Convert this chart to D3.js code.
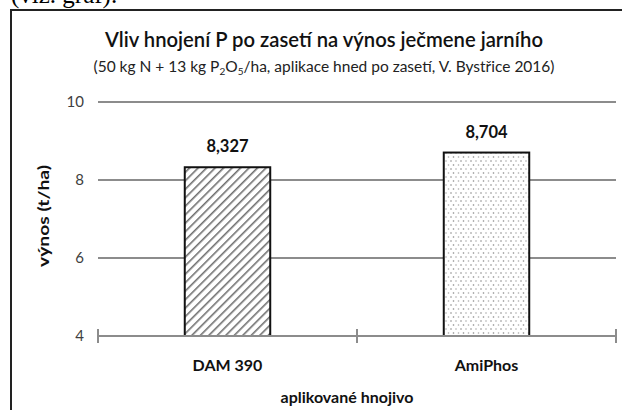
<!DOCTYPE html>
<html><head><meta charset="utf-8">
<script src="https://cdn.jsdelivr.net/npm/d3@7"></script>
<style>body{margin:0;background:#fff}svg{display:block}</style>
</head><body>
<svg id="c" width="622" height="410"></svg>
<script>
const categories = ["DAM 390", "AmiPhos"];
const values = [8.327, 8.704];
const yTicks = [4, 6, 8, 10];
const valueLabels = ["8,327", "8,704"];
const patterns = ["hatch", "dots"];

const svg = d3.select("#c");
const FONT = "Lato, 'Open Sans', sans-serif";

// patterns
const defs = svg.append("defs");
const ph = defs.append("pattern").attr("id","hatch").attr("patternUnits","userSpaceOnUse")
  .attr("width",6).attr("height",6).attr("patternTransform","rotate(45)");
ph.append("rect").attr("width",6).attr("height",6).attr("fill","#fff");
ph.append("line").attr("x1",0).attr("y1",0).attr("x2",0).attr("y2",6)
  .attr("stroke","#707070").attr("stroke-width",3.2);
const pd = defs.append("pattern").attr("id","dots").attr("patternUnits","userSpaceOnUse")
  .attr("width",10).attr("height",8);
pd.append("rect").attr("width",10).attr("height",8).attr("fill","#fff");
[[1,1],[6,1],[3.5,5],[8.5,5]].forEach(([x,y],i)=>{
  pd.append("circle").attr("cx",x).attr("cy",y).attr("r",0.8).attr("fill", i%2? "#aaa":"#888");
});

// document remnant text and frame
svg.append("text").attr("x",11).attr("y",3).attr("font-family","'Liberation Serif', serif")
  .attr("font-size",25).attr("fill","#000").text("(viz. graf).");
svg.append("line").attr("x1",11).attr("x2",622).attr("y1",10).attr("y2",10).attr("stroke","#222").attr("stroke-width",2);
svg.append("line").attr("x1",11).attr("x2",11).attr("y1",9).attr("y2",410).attr("stroke","#222").attr("stroke-width",2);

const x = d3.scaleBand().domain(categories).range([98,616]).padding(0);
const y = d3.scaleLinear().domain([4,10]).range([336,102]);

// gridlines
svg.append("g").selectAll("line").data(yTicks.filter(t=>t>4)).join("line")
  .attr("x1",98).attr("x2",616).attr("y1",d=>y(d)).attr("y2",d=>y(d))
  .attr("stroke","#8c8c8c").attr("stroke-width",2);

// y labels
svg.append("g").selectAll("text").data(yTicks).join("text")
  .attr("x",84).attr("y",d=>y(d)).attr("dy","0.36em").attr("text-anchor","end")
  .attr("font-family",FONT).attr("font-size",15).attr("fill","#404040").text(d=>d);

// bars
const bw = x.bandwidth()*0.33;
svg.append("g").selectAll("rect").data(categories).join("rect")
  .attr("x",d=>x(d)+x.bandwidth()/2-bw/2).attr("width",bw)
  .attr("y",(d,i)=>y(values[i])).attr("height",(d,i)=>y(4)-y(values[i]))
  .attr("fill",(d,i)=>`url(#${patterns[i]})`).attr("stroke","#111").attr("stroke-width",2);

// x axis
const xAxisY = y(4);
svg.append("line").attr("x1",98).attr("x2",616).attr("y1",xAxisY).attr("y2",xAxisY)
  .attr("stroke","#8c8c8c").attr("stroke-width",2);
const tickX = categories.map(c=>x(c)).concat([x(categories[categories.length-1])+x.bandwidth()]);
svg.append("g").selectAll("line").data(tickX).join("line")
  .attr("x1",d=>d).attr("x2",d=>d).attr("y1",xAxisY-7).attr("y2",xAxisY+7)
  .attr("stroke","#8c8c8c").attr("stroke-width",2);

// value labels
svg.append("g").selectAll("text").data(categories).join("text")
  .attr("x",d=>x(d)+x.bandwidth()/2).attr("y",(d,i)=>y(values[i])-15)
  .attr("text-anchor","middle").attr("font-family",FONT).attr("font-weight","bold")
  .attr("font-size",16.5).attr("fill","#111").text((d,i)=>valueLabels[i]);

// category labels
svg.append("g").selectAll("text").data(categories).join("text")
  .attr("x",d=>x(d)+x.bandwidth()/2).attr("y",371)
  .attr("text-anchor","middle").attr("font-family",FONT).attr("font-weight","bold")
  .attr("font-size",16).attr("fill","#111").text(d=>d);

// axis titles
svg.append("text").attr("x",347).attr("y",403).attr("text-anchor","middle")
  .attr("font-family",FONT).attr("font-weight","bold").attr("font-size",16).attr("fill","#111")
  .text("aplikované hnojivo");
svg.append("text").attr("transform","translate(49,216) rotate(-90)").attr("text-anchor","middle")
  .attr("font-family",FONT).attr("font-weight","bold").attr("font-size",16).attr("fill","#111")
  .attr("textLength",102).attr("lengthAdjust","spacingAndGlyphs")
  .text("výnos (t/ha)");

// titles
svg.append("text").attr("x",324).attr("y",47).attr("text-anchor","middle")
  .attr("font-family",FONT).attr("font-size",21).attr("fill","#111").attr("font-weight","600")
  .attr("textLength",438).attr("lengthAdjust","spacingAndGlyphs")
  .text("Vliv hnojení P po zasetí na výnos ječmene jarního");
const st = svg.append("text").attr("x",324).attr("y",72).attr("text-anchor","middle")
  .attr("font-family",FONT).attr("font-size",15.5).attr("fill","#222");
st.append("tspan").text("(50 kg N + 13 kg P");
st.append("tspan").attr("font-size",10).attr("dy",3).text("2");
st.append("tspan").attr("dy",-3).text("O");
st.append("tspan").attr("font-size",10).attr("dy",3).text("5");
st.append("tspan").attr("dy",-3).text("/ha, aplikace hned po zasetí, V. Bystřice 2016)");
</script>
</body></html>
